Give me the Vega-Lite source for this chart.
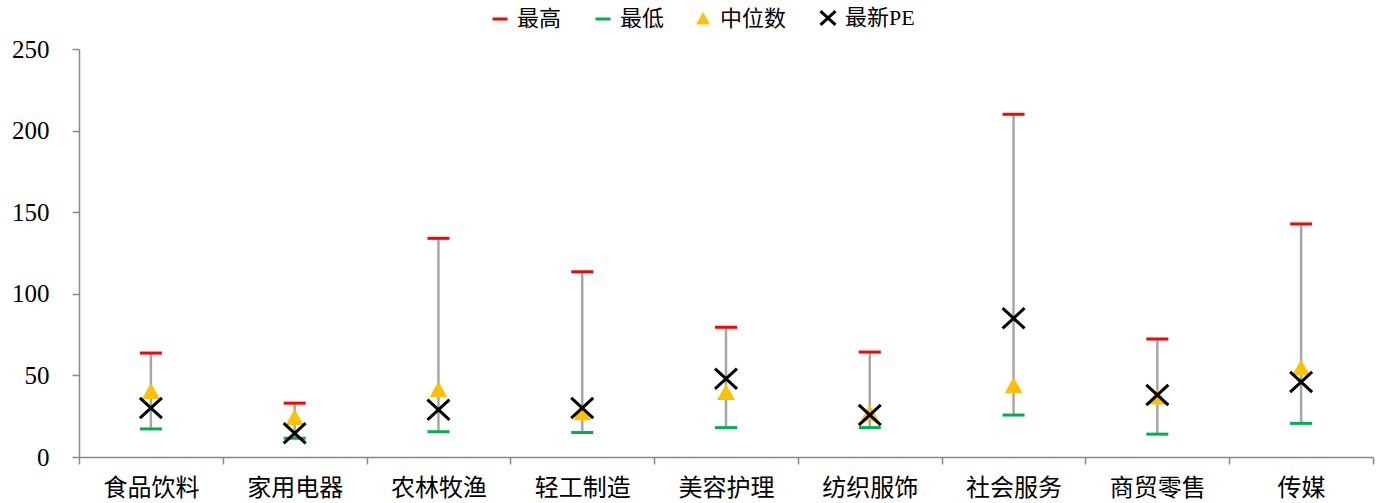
{
  "$schema": "https://vega.github.io/schema/vega-lite/v6.json",
  "autosize": {"type": "none"},
  "padding": {"left": 79, "top": 49, "right": 14, "bottom": 46},
  "width": 1294,
  "height": 408,
  "background": "white",
  "config": {
    "view": {"stroke": null},
    "font": "Liberation Serif, Noto Sans CJK SC",
    "legend": {
      "title": null,
      "orient": "none",
      "legendX": 410,
      "legendY": -42,
      "direction": "horizontal",
      "symbolSize": 225,
      "symbolStrokeWidth": 3,
      "labelFontSize": 22,
      "labelColor": "black",
      "columnPadding": 27,
      "labelOffset": 6
    }
  },
  "data": {
    "values": [
      {"行业": "食品饮料", "最高": 63.7, "最低": 17.2, "中位数": 40.0, "最新PE": 30.0},
      {"行业": "家用电器", "最高": 33.0, "最低": 11.5, "中位数": 24.0, "最新PE": 14.5},
      {"行业": "农林牧渔", "最高": 134.0, "最低": 15.5, "中位数": 41.0, "最新PE": 29.0},
      {"行业": "轻工制造", "最高": 113.5, "最低": 15.0, "中位数": 27.0, "最新PE": 30.0},
      {"行业": "美容护理", "最高": 79.5, "最低": 18.0, "中位数": 39.4, "最新PE": 48.0},
      {"行业": "纺织服饰", "最高": 64.3, "最低": 18.0, "中位数": 26.7, "最新PE": 25.7},
      {"行业": "社会服务", "最高": 210.0, "最低": 25.7, "中位数": 43.5, "最新PE": 85.0},
      {"行业": "商贸零售", "最高": 72.3, "最低": 14.0, "中位数": 36.6, "最新PE": 38.0},
      {"行业": "传媒", "最高": 142.8, "最低": 20.6, "中位数": 54.3, "最新PE": 46.0}
    ]
  },
  "encoding": {
    "x": {
      "field": "行业",
      "type": "nominal",
      "sort": null,
      "scale": {"paddingInner": 0, "paddingOuter": 0},
      "axis": {
        "title": null,
        "labelAngle": 0,
        "labelFontSize": 24,
        "labelColor": "black",
        "labelPadding": 12,
        "tickBand": "extent",
        "tickSize": 7,
        "tickColor": "#888888",
        "tickWidth": 1.5,
        "domainColor": "#888888",
        "domainWidth": 1.5,
        "encode": {"ticks": {"update": {"y2": {"value": -7}}}}
      }
    }
  },
  "layer": [
    {
      "mark": {"type": "rule", "color": "#A6A6A6", "strokeWidth": 2.5},
      "encoding": {
        "y": {
          "field": "最低",
          "type": "quantitative",
          "scale": {"domain": [0, 250], "nice": false},
          "axis": {
            "title": null,
            "values": [0, 50, 100, 150, 200, 250],
            "grid": false,
            "labelFontSize": 25,
            "labelColor": "black",
            "labelPadding": 23,
            "tickSize": 7,
            "tickColor": "#888888",
            "tickWidth": 1.5,
            "domainColor": "#888888",
            "domainWidth": 1.5,
            "encode": {"ticks": {"update": {"x2": {"value": 7}}}}
          }
        },
        "y2": {"field": "最高"}
      }
    },
    {
      "transform": [
        {"fold": ["最高", "最低", "中位数", "最新PE"], "as": ["指标", "PE"]}
      ],
      "mark": {"type": "point", "size": 484, "strokeWidth": 3, "opacity": 1},
      "encoding": {
        "y": {"field": "PE", "type": "quantitative"},
        "shape": {
          "field": "指标",
          "type": "nominal",
          "scale": {
            "domain": ["最高", "最低", "中位数", "最新PE"],
            "range": ["M-1,0L1,0", "M-1,0L1,0", "M0,-0.52L0.58,0.52L-0.58,0.52Z", "M-1,-0.92L1,0.92M-1,0.92L1,-0.92"]
          }
        },
        "stroke": {
          "field": "指标",
          "type": "nominal",
          "scale": {
            "domain": ["最高", "最低", "中位数", "最新PE"],
            "range": ["#FF0000", "#00B050", "#FFC000", "#000000"]
          }
        },
        "fill": {
          "field": "指标",
          "type": "nominal",
          "scale": {
            "domain": ["最高", "最低", "中位数", "最新PE"],
            "range": ["transparent", "transparent", "#FFC000", "transparent"]
          }
        }
      }
    }
  ]
}
